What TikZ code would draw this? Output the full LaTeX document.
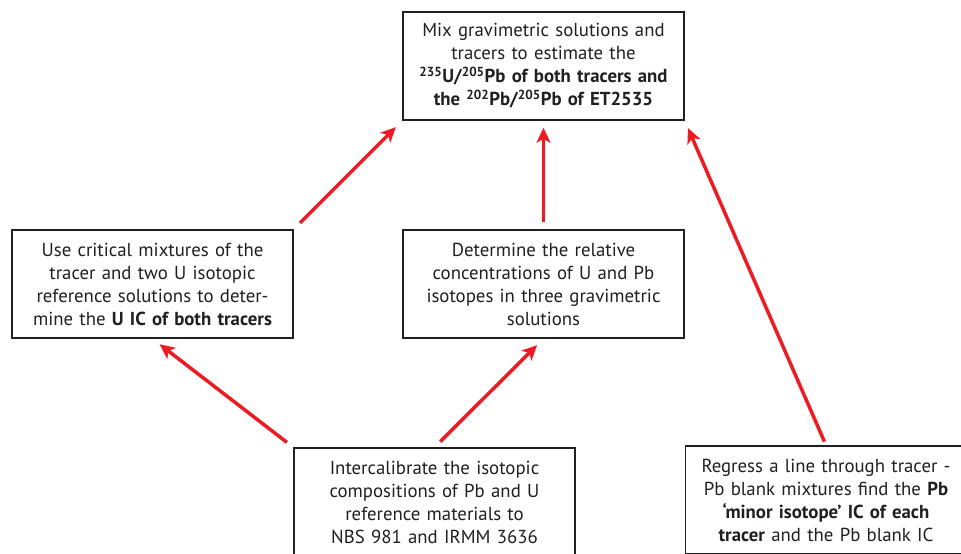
\documentclass[tikz,border=0pt]{standalone}
\usepackage{fontspec}
\setmainfont{PT Sans}
\usepackage{tikz}
\usetikzlibrary{arrows.meta}

\definecolor{flowred}{HTML}{ED1C24}
\definecolor{inkgray}{HTML}{231F20}

\begin{document}
\begin{tikzpicture}[x=1pt, y=-1pt,
                    block/.style={draw=inkgray, line width=1.5pt, text=inkgray,
                            minimum width=281pt, minimum height=108pt,
                            inner sep=0pt, text width=278pt, align=center,
                            font=\fontsize{18.8}{23}\selectfont},
                    flow/.style={draw=flowred, line width=3.5pt,
                            -{Stealth[length=15pt, width=14pt, inset=4pt]}}]
                \useasboundingbox (0,0) rectangle (961,554);
                \clip (0,0) rectangle (961,554);
                \fill[white] (0,0) rectangle (961,554);

                \node[block] (mix)  at (543.5,66) {Mix gravimetric solutions and\\
                        tracers to estimate the\\
                        \textbf{\textsuperscript{235}U/\textsuperscript{205}Pb of both tracers and}\\
                        \textbf{the \textsuperscript{202}Pb/\textsuperscript{205}Pb of ET2535}};
                \node[block] (crit) at (152.5,284) {Use critical mixtures of the\\
                        tracer and two U isotopic\\
                        reference solutions to deter-\\
                        mine the \textbf{U IC of both tracers}};
                \node[block] (conc) at (543.5,284) {Determine the relative\\
                        concentrations of U and Pb\\
                        isotopes in three gravimetric\\
                        solutions};
                \node[block] (cal)  at (434.5,502) {Intercalibrate the isotopic\\
                        compositions of Pb and U\\
                        reference materials to\\
                        NBS 981 and IRMM 3636};
                \node[block] (reg)  at (826,500) {Regress a line through tracer -\\
                        Pb blank mixtures find the \textbf{Pb}\\
                        \textbf{`minor isotope' IC of each}\\
                        \textbf{tracer} and the Pb blank IC};

                % arrows
                \draw[flow, shorten <=9pt, shorten >=9pt] (crit.north east) -- (mix.south west);
                \draw[flow, shorten <=7pt, shorten >=7pt] (conc.north) -- (mix.south);
                \draw[flow, shorten <=4pt, shorten >=8pt] (reg.north) -- (mix.south east);
                \draw[flow, shorten <=8pt, shorten >=9pt] (cal.north) -- (conc.south);
                \draw[flow, shorten <=8pt, shorten >=9pt] (cal.north west) -- (crit.south);
            \end{tikzpicture}
\end{document}
